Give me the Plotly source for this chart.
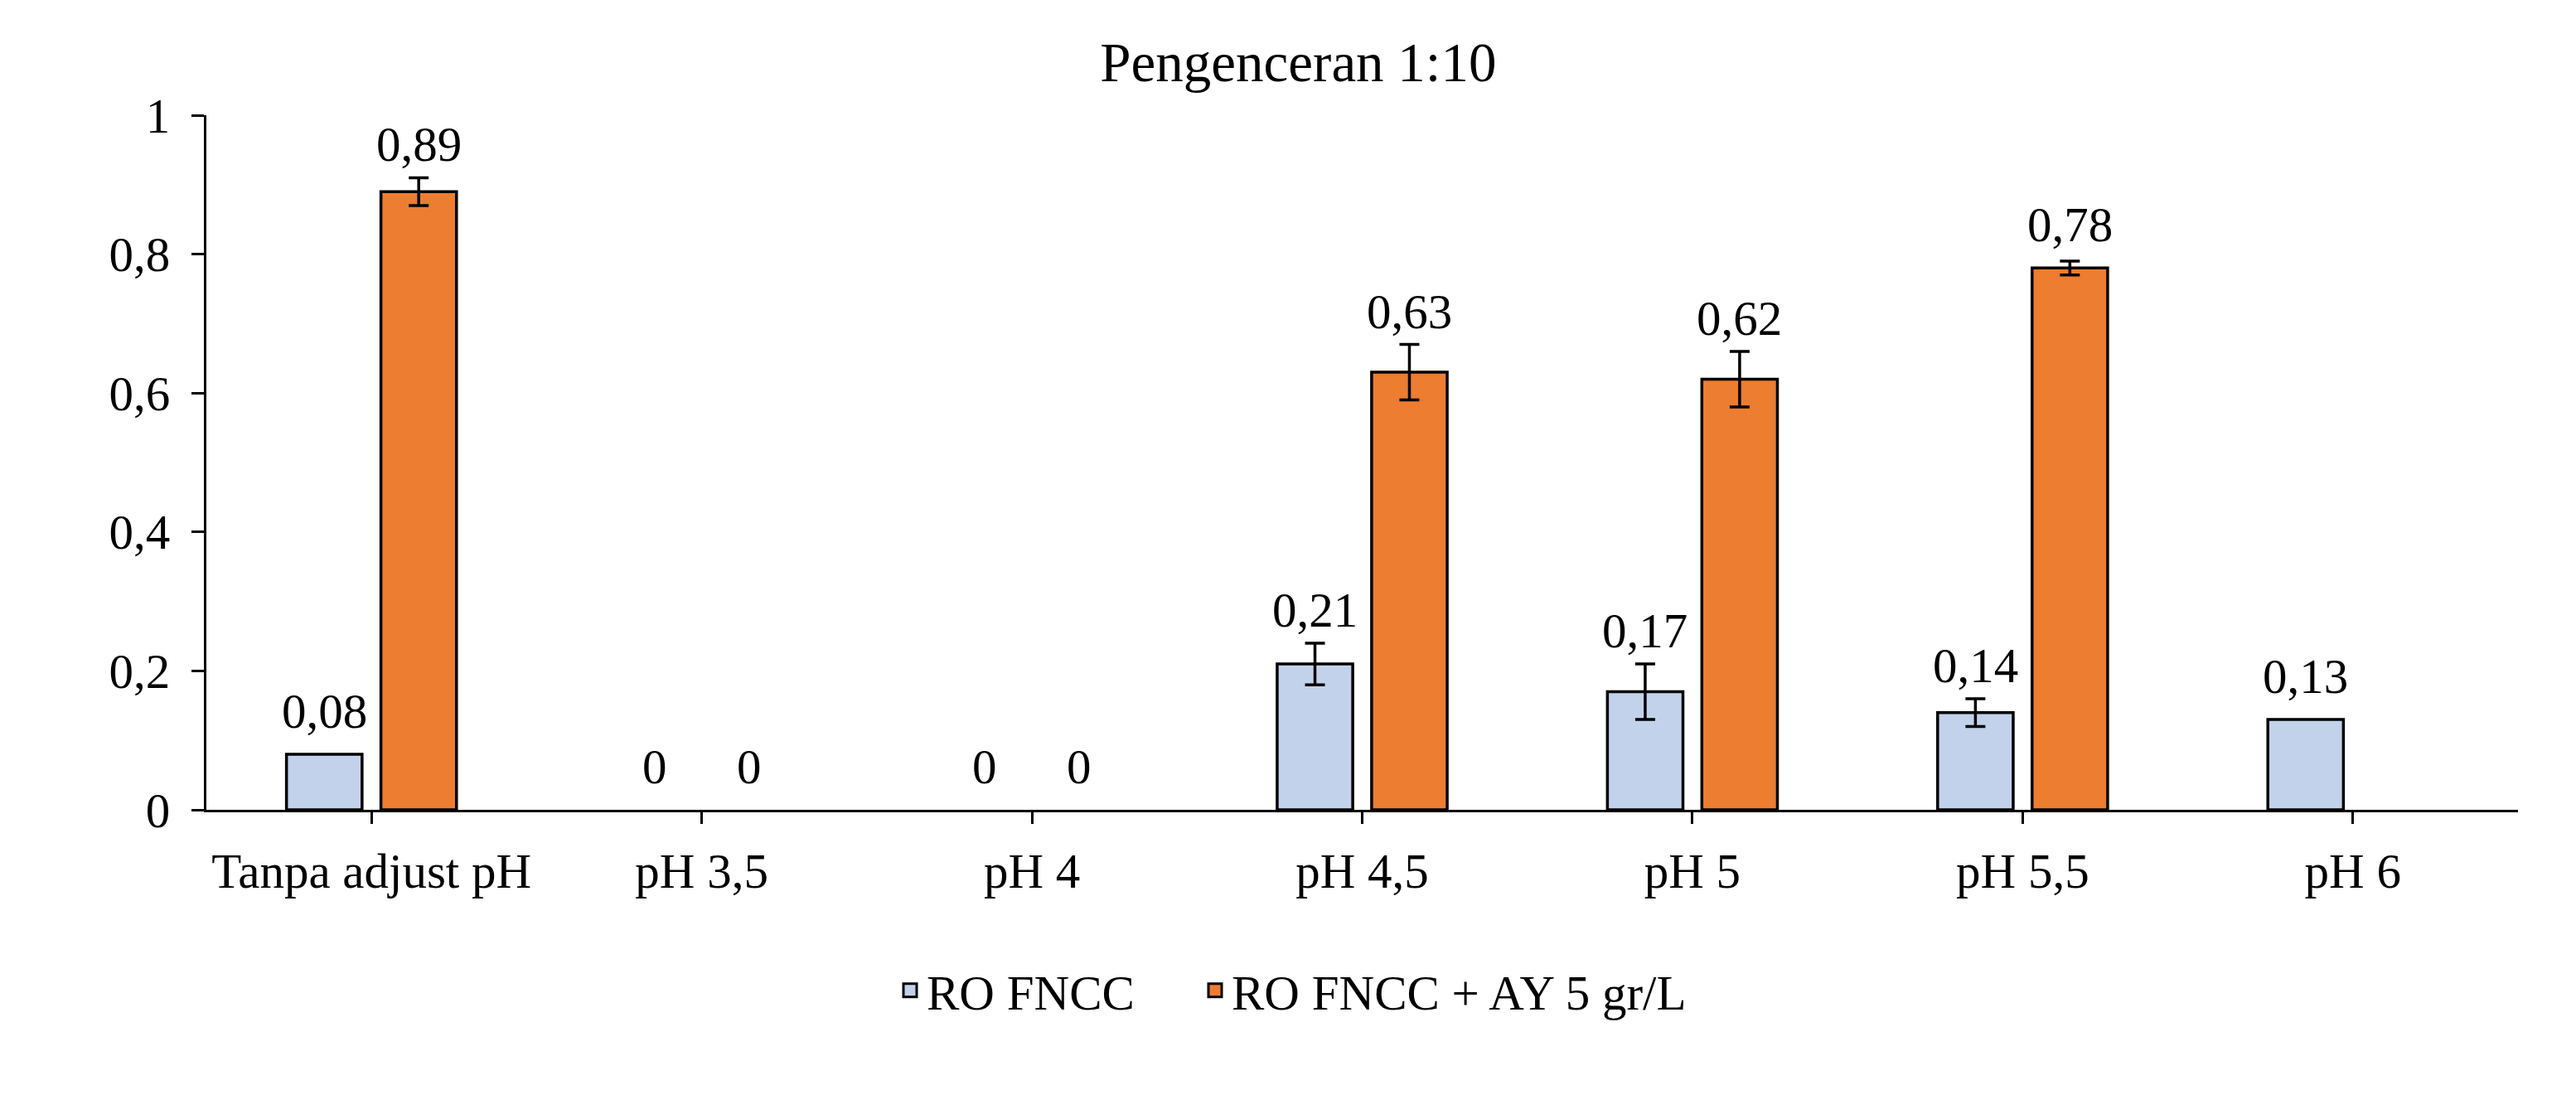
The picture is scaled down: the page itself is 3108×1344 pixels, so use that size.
import plotly.graph_objects as go

categories = ["Tanpa adjust pH", "pH 3,5", "pH 4", "pH 4,5", "pH 5", "pH 5,5", "pH 6"]
series_names = ["RO FNCC", "RO FNCC + AY 5 gr/L"]
ro_fncc = [0.08, 0, 0, 0.21, 0.17, 0.14, 0.13]
ro_fncc_err = [None, None, None, 0.03, 0.04, 0.02, None]
ro_fncc_ay = [0.89, 0, 0, 0.63, 0.62, 0.78, None]
ro_fncc_ay_err = [0.02, None, None, 0.04, 0.04, 0.01, None]
y_ticks = [0, 0.2, 0.4, 0.6, 0.8, 1.0]

W, H = 3108, 1344
M_L, M_R, M_T, M_B = 249, 70, 139, 367
BARGAP, BARGROUPGAP = 0.428, 0.2
FONT = "Liberation Serif, Times New Roman, serif"
FS = 59

colors = ["#C3D2EB", "#ED7D31"]
values = [ro_fncc, ro_fncc_ay]
errors = [ro_fncc_err, ro_fncc_ay_err]
legend_ids = ["legend", "legend2"]

fig = go.Figure()
for name, vals, errs, col, lg in zip(series_names, values, errors, colors, legend_ids):
    fig.add_trace(go.Bar(
        name=name, x=categories, y=vals, showlegend=False,
        marker=dict(color=col, line=dict(color="black",
                                         width=[3.5 if v else 0 for v in vals])),
        # "NaN" (not null) so plotly.js skips the error bar instead of drawing a zero cap
        error_y=dict(type="data", array=[e if e is not None else "NaN" for e in errs],
                     visible=True, color="black", thickness=3.5, width=12),
    ))
    # legend entry (larger square swatch)
    fig.add_trace(go.Scatter(
        name=name, x=[None], y=[None], mode="markers", showlegend=True, legend=lg,
        marker=dict(symbol="square", size=16, color=col, line=dict(color="black", width=3)),
    ))

# data labels above bars (Excel-like outside-end placement)
plot_w = W - M_L - M_R
plot_h = H - M_T - M_B
cat_px = plot_w / len(categories)
slot = cat_px * (1 - BARGAP) / len(values)
for k, (vals, errs) in enumerate(zip(values, errors)):
    shift = (k - (len(values) - 1) / 2) * slot
    for c, v, e in zip(categories, vals, errs):
        if v is None:
            continue
        txt = "0" if v == 0 else f"{v:.2f}".replace(".", ",")
        lift = max(52, (e or 0) * plot_h + 40)
        fig.add_annotation(x=c, y=v, xref="x", yref="y", text=txt,
                           showarrow=False, xshift=shift, yshift=lift, yanchor="middle",
                           font=dict(family=FONT, size=FS, color="black"))

# small end tick at right end of category axis
fig.add_shape(type="line", xref="x domain", yref="y", x0=1, x1=1, y0=0, y1=-14,
              ysizemode="pixel", yanchor=0, line=dict(color="black", width=3))

legend_style = dict(orientation="h", xanchor="left", y=-0.26, yanchor="middle",
                    font=dict(family=FONT, size=FS, color="black"),
                    bgcolor="rgba(0,0,0,0)", itemsizing="trace")

fig.update_layout(
    width=W, height=H,
    margin=dict(l=M_L, r=M_R, t=M_T, b=M_B),
    paper_bgcolor="white", plot_bgcolor="white",
    barmode="group", bargap=BARGAP, bargroupgap=BARGROUPGAP,
    separators=",.",
    font=dict(family=FONT, size=FS, color="black"),
    title=dict(text="Pengenceran 1:10", x=0.504, xanchor="center", y=1 - 75 / H,
               yanchor="middle", yref="container",
               font=dict(family=FONT, size=67, color="black")),
    showlegend=True,
    legend=dict(x=(1078 - M_L) / plot_w, **legend_style),
    legend2=dict(x=(1446 - M_L) / plot_w, **legend_style),
    xaxis=dict(type="category", range=[-0.5, len(categories) - 0.5], showline=True,
               linecolor="black", linewidth=3, ticks="outside", ticklen=14, tickwidth=3,
               tickcolor="black", showgrid=False, zeroline=False, ticklabelstandoff=6,
               tickfont=dict(family=FONT, size=FS, color="black")),
    yaxis=dict(range=[0, 1], tickvals=y_ticks, tickformat="~g", showline=True,
               linecolor="black", linewidth=3, ticks="outside", ticklen=15, tickwidth=3,
               tickcolor="black", showgrid=False, zeroline=False, ticklabelstandoff=14,
               tickfont=dict(family=FONT, size=FS, color="black")),
)

fig.write_html("out.html")
